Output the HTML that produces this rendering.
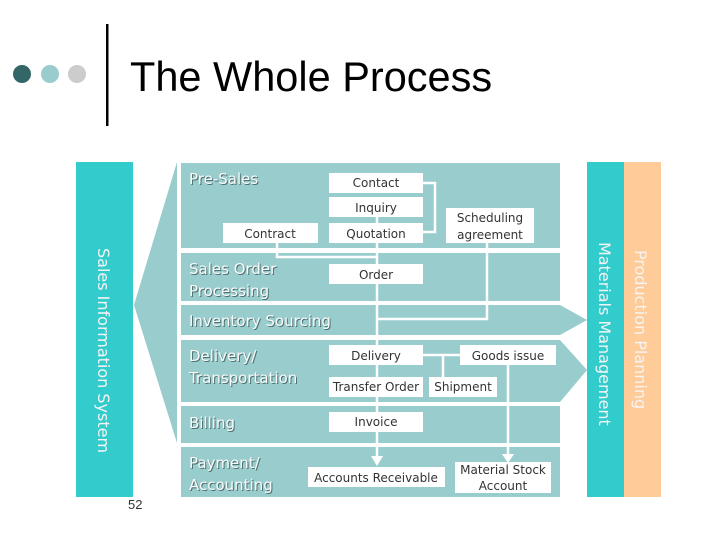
<!DOCTYPE html>
<html><head><meta charset="utf-8"><style>
body{margin:0;background:#fff}
svg text{font-family:"DejaVu Sans","Liberation Sans",sans-serif}
.lab{font-size:15px}
.sh{fill:#4f7070}
.fg{fill:#fafafa}
.bx{font-size:12px;fill:#333;text-anchor:middle}
</style></head><body>
<svg width="720" height="540" viewBox="0 0 720 540" xmlns="http://www.w3.org/2000/svg">
<circle cx="22" cy="74" r="9" fill="#336666"/>
<circle cx="50" cy="74" r="9" fill="#99cccc"/>
<circle cx="77" cy="74" r="9" fill="#cccccc"/>
<rect x="106" y="24" width="2.5" height="102" fill="#000"/>
<text x="130" y="91" style="font-family:'Liberation Sans',sans-serif" font-size="41.5" fill="#000">The Whole Process</text>
<rect x="76" y="162" width="57" height="335" fill="#33cccc"/>
<text transform="translate(98,248) rotate(90)" style="font-size:16px;fill:#f4f4f4">Sales Information System</text>
<polygon points="134,305 177,162 177,443" fill="#99cccc"/>
<rect x="587" y="162" width="37" height="335" fill="#33cccc"/>
<rect x="624" y="162" width="37" height="335" fill="#ffcc99"/>
<text transform="translate(599,242) rotate(90)" style="font-size:16px;fill:#f4f4f4">Materials Management</text>
<text transform="translate(635,250) rotate(90)" style="font-size:16px;fill:#f4f4f4">Production Planning</text>
<g fill="#99cccc">
<rect x="181" y="163" width="379" height="85"/>
<rect x="181" y="253" width="379" height="48"/>
<polygon points="181,305 560,305 587,320 560,335 181,335"/>
<polygon points="181,340 560,340 587,370 560,402 181,402"/>
<rect x="181" y="406" width="379" height="37"/>
<rect x="181" y="447" width="379" height="50"/>
</g>
<g class="lab sh" transform="translate(1,1)">
<text x="189" y="184">Pre-Sales</text>
<text x="189" y="274">Sales Order</text>
<text x="189" y="296">Processing</text>
<text x="189" y="326">Inventory Sourcing</text>
<text x="189" y="361">Delivery/</text>
<text x="189" y="383">Transportation</text>
<text x="189" y="428">Billing</text>
<text x="189" y="468">Payment/</text>
<text x="189" y="490">Accounting</text>
</g>
<g class="lab fg">
<text x="189" y="184">Pre-Sales</text>
<text x="189" y="274">Sales Order</text>
<text x="189" y="296">Processing</text>
<text x="189" y="326">Inventory Sourcing</text>
<text x="189" y="361">Delivery/</text>
<text x="189" y="383">Transportation</text>
<text x="189" y="428">Billing</text>
<text x="189" y="468">Payment/</text>
<text x="189" y="490">Accounting</text>
</g>
<g stroke="#fff" stroke-width="2.5" fill="none">
<polyline points="423,183 435,183 435,232 423,232"/>
<line x1="377" y1="217" x2="377" y2="458"/>
<polyline points="277,243 277,257 377,257"/>
<polyline points="487,243 487,319 377,319"/>
<line x1="423" y1="355" x2="460" y2="355"/>
<line x1="443" y1="355" x2="443" y2="377"/>
<line x1="508" y1="365" x2="508" y2="456"/>
</g>
<polygon points="371,456 383,456 377,466" fill="#fff"/>
<polygon points="502,454 514,454 508,463" fill="#fff"/>
<g fill="#fff">
<rect x="329" y="173" width="94" height="20"/>
<rect x="329" y="197" width="94" height="20"/>
<rect x="329" y="223" width="94" height="20"/>
<rect x="223" y="223" width="95" height="20"/>
<rect x="446" y="208" width="88" height="35"/>
<rect x="329" y="264" width="94" height="20"/>
<rect x="329" y="345" width="94" height="20"/>
<rect x="460" y="345" width="96" height="20"/>
<rect x="329" y="377" width="94" height="20"/>
<rect x="429" y="377" width="68" height="20"/>
<rect x="329" y="412" width="94" height="20"/>
<rect x="308" y="467" width="137" height="20"/>
<rect x="455" y="462" width="96" height="31"/>
</g>
<g class="bx">
<text x="376" y="187">Contact</text>
<text x="376" y="212">Inquiry</text>
<text x="376" y="238">Quotation</text>
<text x="270" y="238">Contract</text>
<text x="490" y="222">Scheduling</text>
<text x="490" y="239">agreement</text>
<text x="376" y="279">Order</text>
<text x="376" y="360">Delivery</text>
<text x="508" y="360">Goods issue</text>
<text x="376" y="391">Transfer Order</text>
<text x="463" y="391">Shipment</text>
<text x="376" y="426">Invoice</text>
<text x="376" y="482">Accounts Receivable</text>
<text x="503" y="474">Material Stock</text>
<text x="503" y="490">Account</text>
</g>
<text x="128" y="509" font-size="13" fill="#333" style="font-family:'Liberation Sans',sans-serif">52</text>
</svg>
</body></html>
